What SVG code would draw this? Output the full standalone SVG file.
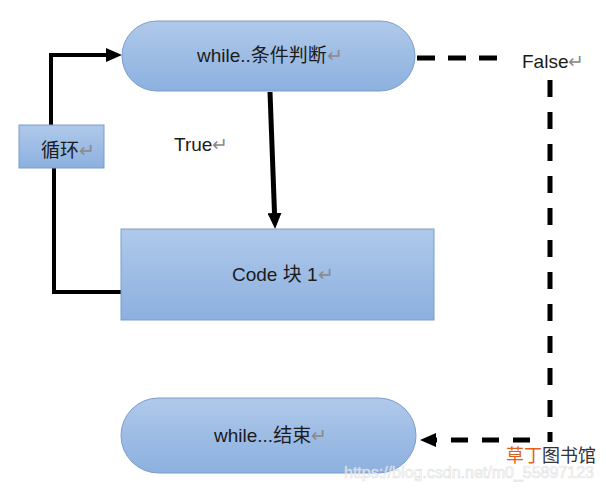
<svg xmlns="http://www.w3.org/2000/svg" width="606" height="491" viewBox="0 0 606 491">
<defs>
<linearGradient id="g" x1="0" y1="0" x2="0" y2="1">
<stop offset="0" stop-color="#afc9ea"/>
<stop offset="1" stop-color="#8cb0df"/>
</linearGradient>
<marker id="ah" viewBox="0 -7 16 14" refX="0" refY="0" markerWidth="16" markerHeight="14" markerUnits="userSpaceOnUse" orient="auto">
<path d="M0,-7 L16,0 L0,7 z" fill="#000"/>
</marker>
<style>
.n{fill:url(#g);stroke:#7b9dc8;stroke-width:1}
.t{font-family:"Liberation Sans","Noto Sans CJK SC",sans-serif;font-size:19px;fill:#1b1b1b}
.r{fill:#8a8a8a}
.c{fill:none;stroke:#000;stroke-width:4}
.d{fill:none;stroke:#000;stroke-width:5}
</style>
</defs>
<g id="connectors">
<path class="c" d="M121,292 H54 V168"/>
<path class="c" d="M51,125 V55 H106" marker-end="url(#ah)"/>
<path class="d" d="M270,92 L274.5,213" marker-end="url(#ah)"/>
<path class="d" d="M417,58 H500" stroke-dasharray="18 13"/>
<path class="d" d="M550,80 V442" stroke-dasharray="17 15"/>
<path class="d" d="M530,440 H436" stroke-dasharray="17 14" marker-end="url(#ah)"/>
</g>
<g id="cond">
<rect class="n" x="122" y="21" width="293" height="70" rx="35" ry="35"/>
<text class="t" x="197" y="62">while..条件判断<tspan class="r">↵</tspan></text>
</g>
<g id="loop">
<rect class="n" x="19" y="125" width="85" height="43"/>
<text class="t" x="41" y="157">循环<tspan class="r">↵</tspan></text>
</g>
<g id="true-label">
<text class="t" x="174" y="151">True<tspan class="r">↵</tspan></text>
</g>
<g id="false-label">
<text class="t" x="522" y="68">False<tspan class="r">↵</tspan></text>
</g>
<g id="code">
<rect class="n" x="121" y="229" width="313" height="91"/>
<text class="t" x="232" y="281">Code 块 1<tspan class="r">↵</tspan></text>
</g>
<g id="end">
<rect class="n" x="121" y="398" width="295" height="75" rx="37.5" ry="37.5"/>
<text class="t" x="214" y="442">while...结束<tspan class="r">↵</tspan></text>
</g>
<g id="watermark">
<text x="344" y="478" textLength="250" lengthAdjust="spacingAndGlyphs" style="font-family:'Liberation Sans',sans-serif;font-size:16px;fill:#ffffff;stroke:#d8d8d8;stroke-width:0.6" opacity="0.8">https://blog.csdn.net/m0_55897123</text>
<text x="506" y="462" style="font-family:'Noto Sans CJK SC',sans-serif;font-size:18px;fill:#333"><tspan fill="#e2601f">草丁</tspan>图书馆</text>
</g>
</svg>
